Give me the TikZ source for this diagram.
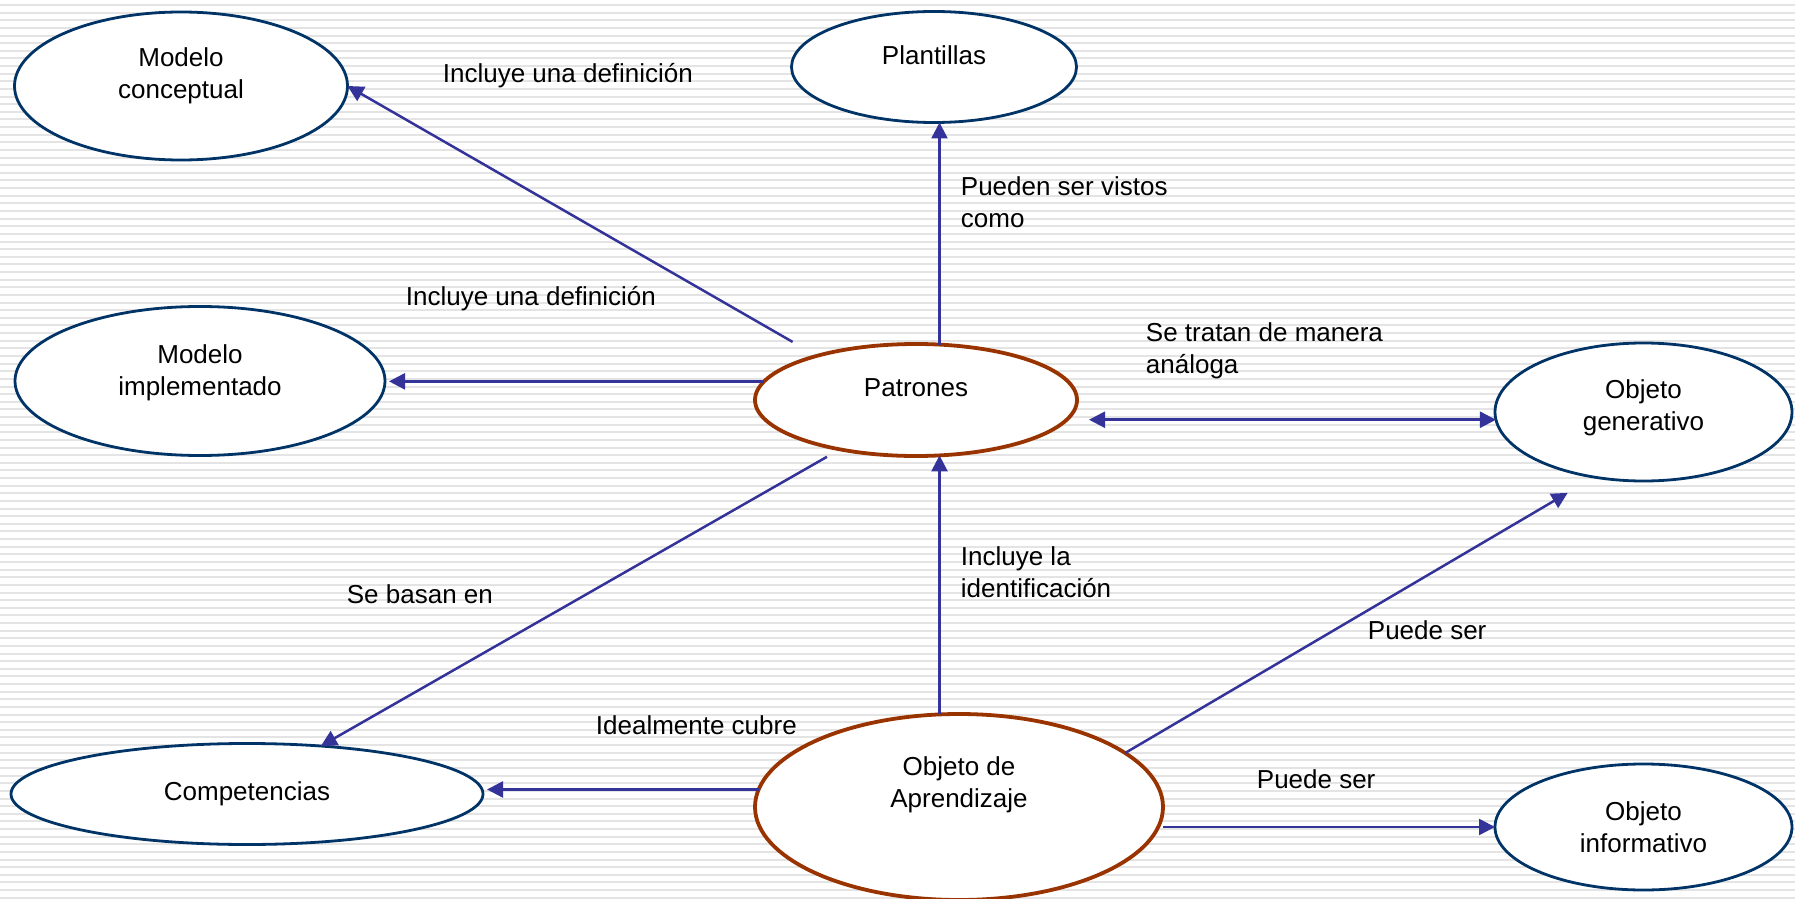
\documentclass[tikz,border=0pt]{standalone}
\usepackage{fontspec}
\setmainfont{Liberation Sans}
\usetikzlibrary{shapes.geometric,arrows.meta}
\definecolor{azul}{RGB}{0,51,102}
\definecolor{marron}{RGB}{153,51,0}
\definecolor{flechaazul}{RGB}{51,51,153}
\definecolor{raya}{RGB}{228,228,228}

\begin{document}
\begin{tikzpicture}[x=0.5pt,y=0.5pt,yscale=-1,xscale=1,
	elipse/.style={ellipse,draw=azul,line width=1.4pt,fill=white,inner sep=0pt,outer sep=0pt},
	elipsefuerte/.style={elipse,draw=marron,line width=1.9pt},
	texto/.style={inner sep=0.75pt,font=\fontsize{13}{16}\selectfont,align=center},
	rotulo/.style={texto,anchor=west,align=left},
	flecha/.style={draw=flechaazul,line width=1.25pt,-{Triangle[length=8pt,width=8pt]}},
	flechadoble/.style={flecha,{Triangle[length=8pt,width=8pt]}-{Triangle[length=8pt,width=8pt]}},
	fondo/.style={draw=raya,line width=1pt}]
				\useasboundingbox (0,0) rectangle (1795,899);

				%Background stripes
				\foreach \i in {0,...,117}
					\draw[fondo] (0,{5+7.63*\i}) -- (1795,{5+7.63*\i});

				%Shape: Ellipse
				\node[elipse,minimum width=166.5pt,minimum height=74pt] (mconc) at (181,86) {};
				%Shape: Ellipse
				\node[elipse,minimum width=142.5pt,minimum height=55.5pt] (plant) at (934,67) {};
				%Shape: Ellipse
				\node[elipse,minimum width=185pt,minimum height=74.5pt] (mimpl) at (200,381) {};
				%Shape: Ellipse
				\node[elipsefuerte,minimum width=161pt,minimum height=56pt] (patrones) at (916,400) {};
				%Shape: Ellipse
				\node[elipse,minimum width=148.5pt,minimum height=69pt] (ogen) at (1643.5,412) {};
				%Shape: Ellipse
				\node[elipse,minimum width=236pt,minimum height=50.5pt] (compet) at (247,794) {};
				%Shape: Ellipse
				\node[elipsefuerte,minimum width=204pt,minimum height=93pt] (oa) at (959,807) {};
				%Shape: Ellipse
				\node[elipse,minimum width=148.5pt,minimum height=63pt] (oinf) at (1643.5,827) {};

				%Straight Lines
				\draw[flecha,shorten <=14pt] (patrones.156) -- (mconc.east);
				%Straight Lines
				\draw[flecha,shorten >=2pt] (patrones.173) -- (patrones.173 -| mimpl.east);
				%Straight Lines
				\draw[flecha] (patrones.67) -- (patrones.67 |- plant.south);
				%Straight Lines
				\draw[flechadoble,shorten <=6pt] (patrones.east |- ogen.183) -- (ogen.183);
				%Straight Lines
				\draw[flecha,shorten <=7.5pt] (patrones.213) -- (compet.33);
				%Straight Lines
				\draw[flecha] (patrones.293 |- oa.north) -- (patrones.293);
				%Straight Lines
				\draw[flecha,shorten >=2pt] (oa.175) -- (oa.175 -| compet.east);
				%Straight Lines
				\draw[flecha,shorten >=15.5pt] (oa.18) -- (ogen.233);
				%Straight Lines
				\draw[flecha] (oa.east |- oinf.west) -- (oinf.west);

				% Text Node
				\node[texto] (tmconc) at (181,76) {Modelo\\conceptual};
				% Text Node
				\node[texto] (tplant) at (934,55) {Plantillas};
				% Text Node
				\node[texto] (tmimpl) at (200,373) {Modelo\\implementado};
				% Text Node
				\node[texto] (tpatrones) at (916,388) {Patrones};
				% Text Node
				\node[texto] (togen) at (1643.5,408) {Objeto\\generativo};
				% Text Node
				\node[texto] (tcompet) at (247,794) {Competencias};
				% Text Node
				\node[texto] (toa) at (959,785) {Objeto de\\Aprendizaje};
				% Text Node
				\node[texto] (toinf) at (1643.5,827) {Objeto\\informativo};

				% Text Node
				\node[rotulo] (incluye1) at (441,76) {Incluye una definición};
				% Text Node
				\node[rotulo] (pueden) at (959,202.5) {Pueden ser vistos\\como};
				% Text Node
				\node[rotulo] (incluye2) at (404,299) {Incluye una definición};
				% Text Node
				\node[rotulo] (setratan) at (1144,351) {Se tratan de manera\\análoga};
				% Text Node
				\node[rotulo] (sebasan) at (345,594) {Se basan en};
				% Text Node
				\node[rotulo] (incluyeid) at (959,572) {Incluye la\\identificación};
				% Text Node
				\node[rotulo] (puede1) at (1366,630) {Puede ser};
				% Text Node
				\node[rotulo] (idealmente) at (594,725) {Idealmente cubre};
				% Text Node
				\node[rotulo] (puede2) at (1255,779) {Puede ser};

\end{tikzpicture}
\end{document}
